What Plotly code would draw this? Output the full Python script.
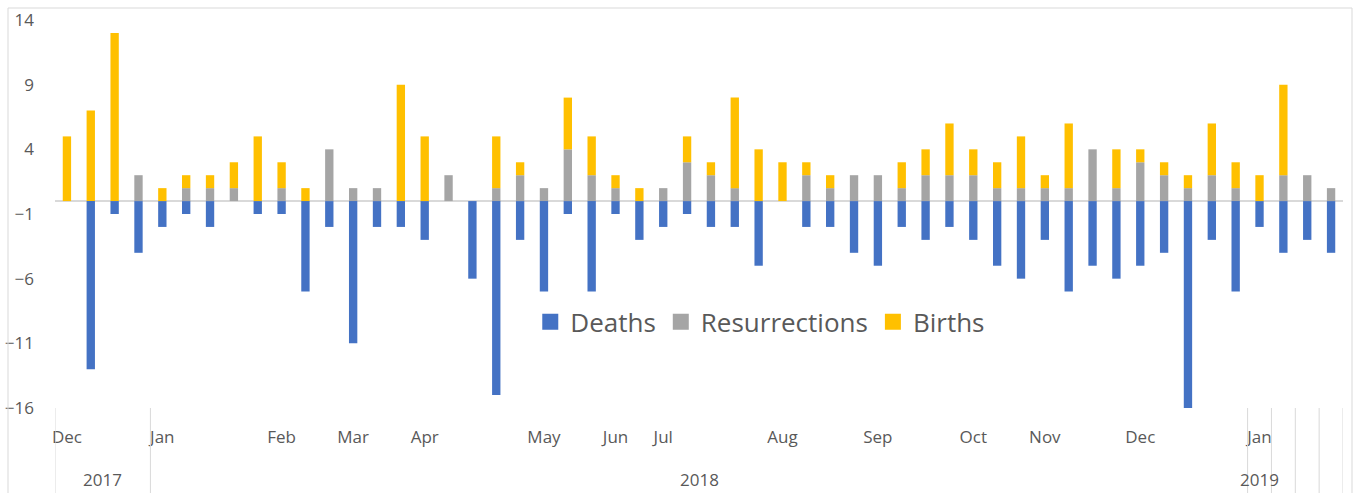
import plotly.graph_objects as go

# weekly counts, Dec 2017 .. Jan 2019
deaths = [0, -13, -1, -4, -2, -1, -2, 0, -1, -1, -7, -2, -11, -2, -2, -3, 0,
          -6, -15, -3, -7, -1, -7, -1, -3, -2, -1, -2, -2, -5, 0, -2, -2, -4, -5, -2,
          -3, -2, -3, -5, -6, -3, -7, -5, -6, -5, -4, -16, -3, -7, -2, -4, -3, -4]
resurrections = [0, 0, 0, 2, 0, 1, 1, 1, 0, 1, 0, 4, 1, 1, 0, 0, 2,
                 0, 1, 2, 1, 4, 2, 1, 0, 1, 3, 2, 1, 0, 0, 2, 1, 2, 2, 1,
                 2, 2, 2, 1, 1, 1, 1, 4, 1, 3, 2, 1, 2, 1, 0, 2, 2, 1]
births = [5, 7, 13, 0, 1, 1, 1, 2, 5, 2, 1, 0, 0, 0, 9, 5, 0,
          0, 4, 1, 0, 4, 3, 1, 1, 0, 2, 1, 7, 4, 3, 1, 1, 0, 0, 2,
          2, 4, 2, 2, 4, 1, 5, 0, 3, 1, 1, 1, 4, 2, 2, 7, 0, 0]

month_labels = ["Dec", "Jan", "Feb", "Mar", "Apr", "May", "Jun", "Jul",
                "Aug", "Sep", "Oct", "Nov", "Dec", "Jan"]
month_pos = [0, 4, 9, 12, 15, 20, 23, 25, 30, 34, 38, 41, 45, 50]

# outer axis level: (label, first week, last week)
year_groups = [("2017", 0, 3), ("2018", 4, 49), ("2019", 50, 50),
               ("", 51, 51), ("", 52, 52), ("", 53, 53)]

weeks = list(range(len(deaths)))
txt = "#595959"
font = "Open Sans, Arial, sans-serif"
series = [("Deaths", deaths, "#4472C4"),
          ("Resurrections", resurrections, "#A5A5A5"),
          ("Births", births, "#FFC000")]

fig = go.Figure()
for name, vals, col in series:
    fig.add_trace(go.Bar(x=weeks, y=vals, name=name, marker_color=col,
                         marker_line_width=0, showlegend=False, legendgroup=name))
# legend entries with bigger square swatches
for name, vals, col in series:
    fig.add_trace(go.Scatter(x=[None], y=[None], mode="markers", name=name,
                             legendgroup=name,
                             marker=dict(symbol="square", size=16, color=col)))

# separators + year labels of the two-level category axis
edges = [year_groups[0][1] - 0.5] + [g[2] + 0.5 for g in year_groups]
for e in edges:
    fig.add_shape(type="line", xref="x", yref="paper", x0=e, x1=e, y0=0, y1=-0.3,
                  line=dict(color="#d9d9d9", width=1))
for label, a, b in year_groups:
    if label:
        fig.add_annotation(x=(a + b) / 2, y=-0.183, xref="x", yref="paper",
                           text=label, showarrow=False, yanchor="middle",
                           font=dict(size=17, color=txt, family=font))

# chart frame
fig.add_shape(type="rect", xref="paper", yref="paper",
              x0=-47 / 1288, x1=1297 / 1288, y0=-0.5, y1=1 + 12 / 388,
              line=dict(color="#d9d9d9", width=1))

fig.update_layout(
    width=1353, height=493,
    margin=dict(l=55, r=10, t=20, b=85, autoexpand=False),
    barmode="relative",
    bargap=0.65,
    plot_bgcolor="white",
    paper_bgcolor="white",
    font=dict(family=font, color=txt),
    legend=dict(orientation="h", x=0.369, y=0.222, xanchor="left", yanchor="middle",
                font=dict(size=26, color=txt), bgcolor="rgba(0,0,0,0)",
                traceorder="normal"),
    xaxis=dict(range=[-0.5, len(weeks) - 0.5], tickmode="array", tickvals=month_pos,
               ticktext=month_labels, showgrid=False, zeroline=False, showline=False,
               automargin=False,
               ticks="", ticklabelstandoff=17, tickfont=dict(size=17, color=txt)),
    yaxis=dict(range=[-16, 14], tick0=-16, dtick=5, showgrid=False,
               zeroline=True, zerolinecolor="#d9d9d9", zerolinewidth=1.5,
               showline=False, ticks="", ticklabelstandoff=20, automargin=False,
               tickfont=dict(size=17, color=txt)),
)

fig.write_html("out.html", config={"displayModeBar": False},
               post_script="document.body.style.margin='0';")
